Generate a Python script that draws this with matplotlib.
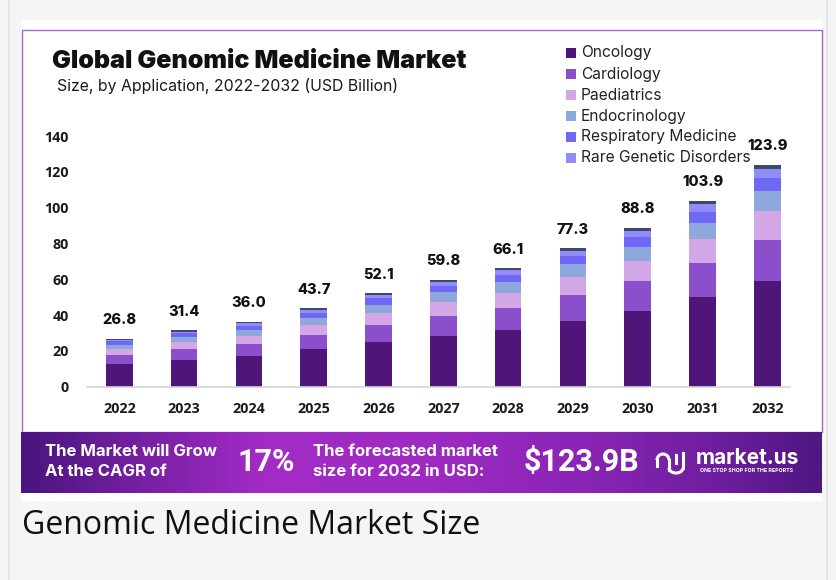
import numpy as np
import matplotlib
matplotlib.use("Agg")
import matplotlib.pyplot as plt
from matplotlib.patches import Rectangle, Arc
from matplotlib.colors import LinearSegmentedColormap

# ---------------- data ----------------
years = ['2022', '2023', '2024', '2025', '2026', '2027', '2028', '2029', '2030', '2031', '2032']
totals = [26.8, 31.4, 36.0, 43.7, 52.1, 59.8, 66.1, 77.3, 88.8, 103.9, 123.9]
oncology = [12.7, 14.9, 17.1, 20.9, 24.8, 28.5, 31.9, 36.9, 42.5, 50.0, 59.3]
cardiology = [4.9, 5.9, 6.6, 8.1, 9.8, 11.1, 11.9, 14.1, 16.3, 18.8, 22.6]
paediatrics = [3.7, 3.9, 4.8, 5.4, 6.3, 7.6, 8.4, 10.2, 11.4, 13.6, 16.2]
endocrinology = [2.1, 2.9, 3.4, 4.1, 5.0, 5.6, 6.1, 7.1, 8.0, 9.1, 11.0]
respiratory = [1.9, 2.2, 1.9, 2.8, 3.4, 3.5, 3.9, 4.7, 5.4, 6.2, 7.4]
rare_genetic = [0.9, 0.9, 1.5, 1.5, 1.7, 2.2, 2.8, 3.0, 3.5, 4.3, 5.0]
others = [0.6, 0.7, 0.7, 0.9, 1.1, 1.3, 1.1, 1.3, 1.7, 1.9, 2.4]
series_names = ['Oncology', 'Cardiology', 'Paediatrics', 'Endocrinology',
                'Respiratory Medicine', 'Rare Genetic Disorders', 'Others']
y_ticks = [0, 20, 40, 60, 80, 100, 120, 140]

title = 'Global Genomic Medicine Market'
subtitle = 'Size, by Application, 2022-2032 (USD Billion)'
caption = 'Genomic Medicine Market Size'
cagr_text = '17%'
forecast_text = '$123.9B'

# ---------------- styles ----------------
series_values = [oncology, cardiology, paediatrics, endocrinology, respiratory, rare_genetic, others]
colors = ['#4f1579', '#8b4fcb', '#d3a7e6', '#8fa8db', '#7067f7', '#918cf8', '#3b4a6a']
in_legend = [True, True, True, True, True, True, False]

W, H = 836, 580
fig = plt.figure(figsize=(W / 100, H / 100), dpi=100, facecolor='#f5f5f5')

# background / frame layer in pixel coordinates
bg = fig.add_axes([0, 0, 1, 1], zorder=0)
bg.set_xlim(0, W)
bg.set_ylim(H, 0)
bg.axis('off')
bg.axvline(9, color='#e2e2e2', lw=1.2)
bg.axvline(827, color='#e2e2e2', lw=1.2)
bg.add_patch(Rectangle((21, 20), 801, 481, facecolor='white', edgecolor='none'))
bg.add_patch(Rectangle((22, 30), 800, 402, facecolor='none', edgecolor='#a666d0', lw=1.0))

# banner gradient
cmap = LinearSegmentedColormap.from_list('banner', [
    (0.0, '#4a157f'), (0.12, '#6e1e9c'), (0.3, '#a22bc5'), (0.5, '#9f2bc3'),
    (0.7, '#8a25b5'), (0.88, '#6c1e9c'), (1.0, '#4f1782')])
grad = np.linspace(0, 1, 400).reshape(1, -1)
bg.imshow(grad, cmap=cmap, extent=(21, 822, 493, 432), aspect='auto', zorder=1)
bg.set_xlim(0, W)
bg.set_ylim(H, 0)

# titles
bg.text(52, 61, title, fontsize=18.1, fontweight='black', family=['Inter', 'DejaVu Sans'],
        color='#111111', va='center', ha='left')
bg.text(57, 86, subtitle, fontsize=11.4, family=['Inter', 'DejaVu Sans'],
        color='#1a1a1a', va='center', ha='left')

# legend (manual)
ly = 53
for name, c, show in zip(series_names, colors, in_legend):
    if not show:
        continue
    bg.add_patch(Rectangle((566, ly - 5), 10, 10, facecolor=c, edgecolor='none'))
    bg.text(581, ly, name, fontsize=11.2, family=['Inter', 'DejaVu Sans'], color='#222222',
            va='center', ha='left')
    ly += 21

# banner text
bfam = ['Inter', 'DejaVu Sans']
bg.text(45, 452, 'The Market will Grow', fontsize=12, fontweight='bold', family=bfam,
        color='white', va='center', ha='left', zorder=3)
bg.text(45, 472, 'At the CAGR of', fontsize=12, fontweight='bold', family=bfam,
        color='white', va='center', ha='left', zorder=3)
bg.text(266, 462, cagr_text, fontsize=22, fontweight='bold', family=['Roboto', 'DejaVu Sans'],
        color='white', va='center', ha='center', zorder=3)
bg.text(313, 452, 'The forecasted market', fontsize=12, fontweight='bold', family=bfam,
        color='white', va='center', ha='left', zorder=3)
bg.text(313, 472, 'size for 2032 in USD:', fontsize=12, fontweight='bold', family=bfam,
        color='white', va='center', ha='left', zorder=3)
bg.text(581, 462, forecast_text, fontsize=22, fontweight='bold', family=['Roboto', 'DejaVu Sans'],
        color='white', va='center', ha='center', zorder=3)
# logo icon
bg.add_patch(Arc((663, 460), 12, 12, theta1=180, theta2=360, color='white', lw=2.2, zorder=3))
bg.plot([657, 657], [460, 466], color='white', lw=2.2, zorder=3)
bg.plot([669, 669], [460, 470], color='white', lw=2.2, zorder=3)
bg.add_patch(Arc((676, 468), 14, 10, theta1=0, theta2=180, color='white', lw=2.2, zorder=3))
bg.plot([683, 683], [453, 468], color='white', lw=2.2, zorder=3)
bg.plot([676, 676], [455, 463], color='white', lw=2.2, zorder=3)
bg.text(696, 458, 'market.us', fontsize=15, fontweight='bold', family=bfam,
        color='white', va='center', ha='left', zorder=3)
bg.text(747, 471, 'ONE STOP SHOP FOR THE REPORTS', fontsize=3.8, fontweight='bold', family=bfam,
        color='white', va='center', ha='center', zorder=3)

# caption
bg.text(22, 526, caption, fontsize=23, family=['Open Sans', 'DejaVu Sans'],
        color='#111111', va='center', ha='left')

# ---------------- chart ----------------
x0, x1, ybase, ytop = 87, 790, 386.7, 136.0
ax = fig.add_axes([x0 / W, (H - ybase) / H, (x1 - x0) / W, (ybase - ytop) / H], zorder=2)
ax.patch.set_alpha(0)
x = np.arange(len(years))
bottom = np.zeros(len(years))
for name, vals, c in zip(series_names, series_values, colors):
    v = np.array(vals)
    ax.bar(x, v, width=0.41, bottom=bottom, color=c, edgecolor='none', label=name, zorder=2)
    bottom += v

for xi, t in zip(x, totals):
    ax.annotate(f'{t:.1f}', (xi, t), xytext=(0, 13.5), textcoords='offset points',
                ha='center', va='center', fontsize=10.5, fontweight='heavy',
                family=['Inter', 'DejaVu Sans'], color='#111111', annotation_clip=False)

ax.set_xlim(-0.5, 10.35)
ax.set_ylim(0, 140)
ax.set_yticks(y_ticks)
ax.set_yticklabels([str(t) for t in y_ticks])
ax.set_xticks(x)
ax.set_xticklabels(years)
for lab in ax.get_xticklabels() + ax.get_yticklabels():
    lab.set_fontfamily(['Open Sans', 'DejaVu Sans'])
    lab.set_fontweight('bold')
    lab.set_fontsize(10.3)
    lab.set_color('#1a1a1a')
ax.tick_params(axis='y', length=0, pad=13)
ax.tick_params(axis='x', length=0, pad=11)
for s in ['top', 'right', 'left']:
    ax.spines[s].set_visible(False)
ax.spines['bottom'].set_color('#d6d6d6')
ax.spines['bottom'].set_linewidth(1.2)

fig.savefig('out.png', dpi=100, facecolor=fig.get_facecolor())
